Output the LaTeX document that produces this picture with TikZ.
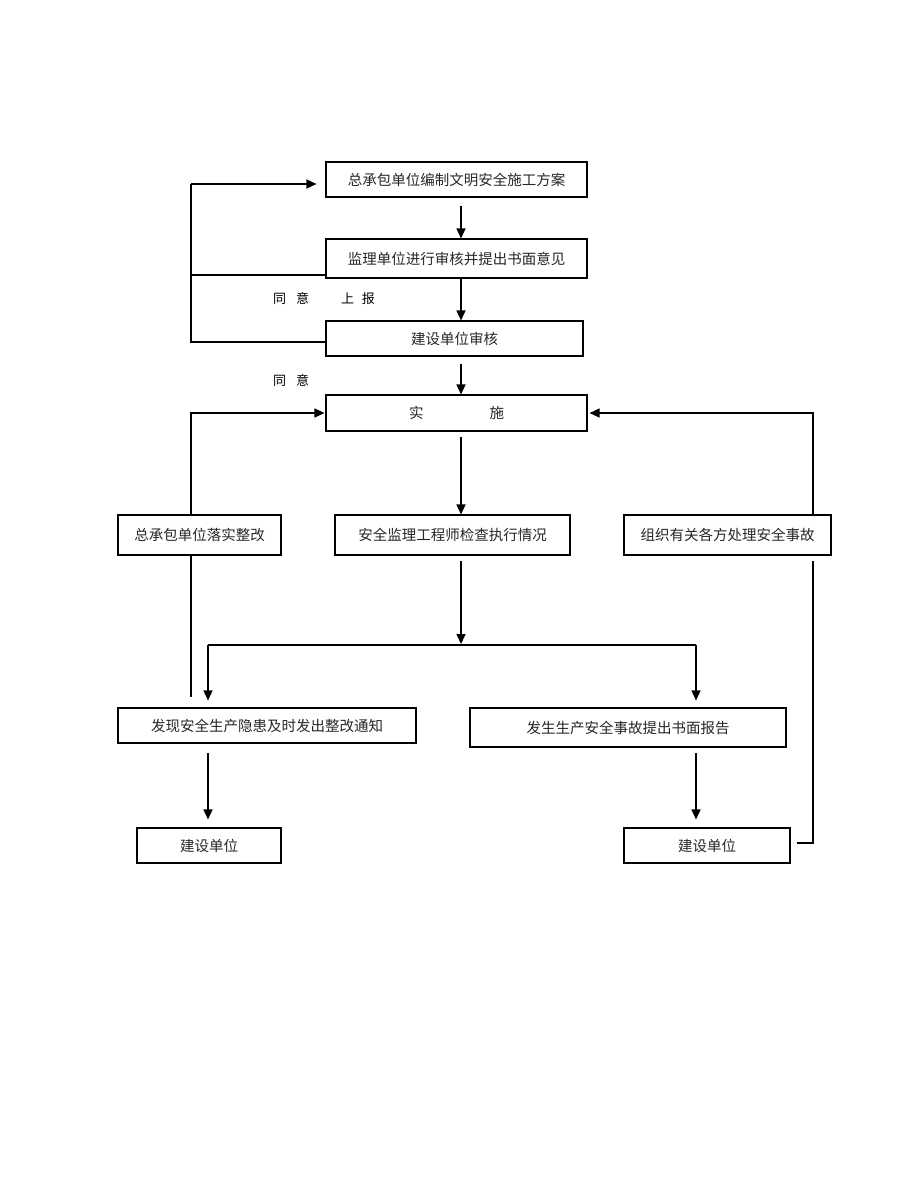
\documentclass[tikz,border=0pt]{standalone}
\usepackage{fontspec}
\setmainfont{Noto Sans CJK SC}
\usetikzlibrary{arrows.meta,calc}
\begin{document}
\begin{tikzpicture}[x=1pt,y=-1pt,
  box/.style={draw,line width=1.1pt,inner sep=0pt,font=\fontsize{14.5}{16}\selectfont,text=black!85},
  lbl/.style={inner sep=0pt,font=\fontsize{13}{15}\selectfont},
  ln/.style={line width=1.2pt},
  arr/.style={line width=1.5pt,-{Triangle[length=10pt,width=9pt]}}]
\useasboundingbox (0,0) rectangle (920,1191);
\node[box,minimum width=261pt,minimum height=35pt] (b1) at (456.5,179.5) {总承包单位编制文明安全施工方案};
\node[box,minimum width=261pt,minimum height=39pt] (b2) at (456.5,258.5) {监理单位进行审核并提出书面意见};
\node[box,minimum width=257pt,minimum height=35pt] (b3) at (454.5,338.5) {建设单位审核};
\node[box,minimum width=261pt,minimum height=36pt] (b4) at (456.5,413) {实\hspace{66pt}施};
\node[box,minimum width=163pt,minimum height=40pt] (b5) at (199.5,535) {总承包单位落实整改};
\node[box,minimum width=235pt,minimum height=40pt] (b6) at (452.5,535) {安全监理工程师检查执行情况};
\node[box,minimum width=207pt,minimum height=40pt] (b7) at (727.5,535) {组织有关各方处理安全事故};
\node[box,minimum width=298pt,minimum height=35pt] (b8) at (267,725.5) {发现安全生产隐患及时发出整改通知};
\node[box,minimum width=316pt,minimum height=39pt] (b9) at (628,727.5) {发生生产安全事故提出书面报告};
\node[box,minimum width=144pt,minimum height=35pt] (b10) at (209,845.5) {建设单位};
\node[box,minimum width=166pt,minimum height=35pt] (b11) at (707,845.5) {建设单位};
\node[lbl] (t1) at (291,299) {同\hspace{10pt}意};
\node[lbl] (t2) at (358,299) {上\hspace{8pt}报};
\node[lbl] (t3) at (291,381) {同\hspace{10pt}意};
% coordinates
\coordinate (lx1) at (191,342);
\coordinate (lx2) at (191,184);
\coordinate (lx3) at (191,275);
\coordinate (sp) at (461,645);
\coordinate (sl) at (208,645);
\coordinate (sr) at (696,645);
\coordinate (lb) at (191,697);
\coordinate (rt) at (813,843);
% top loop
\draw[ln] (b3.west |- lx1) -- (lx1) -- (lx2);
\draw[arr,shorten >=9pt] (lx2) -- (b1.west |- lx2);
\draw[ln] (b2.west |- lx3) -- (lx3);
% vertical chain
\draw[arr] ([yshift=-8pt]b1.south -| 461,0) -- (b2.north -| 461,0);
\draw[arr] (b2.south -| 461,0) -- (b3.north -| 461,0);
\draw[arr] ([yshift=-7pt]b3.south -| 461,0) -- (b4.north -| 461,0);
\draw[arr] ([yshift=-5pt]b4.south -| 461,0) -- (b6.north -| 461,0);
% feedback to b4
\draw[arr] (b5.north -| 191,0) |- ([xshift=-1pt]b4.west);
\draw[arr] (b7.north -| 813,0) |- ([xshift=2pt]b4.east);
% split
\draw[arr] ([yshift=-5pt]b6.south -| 461,0) -- ([yshift=1pt]sp);
\draw[ln] (sl) -- (sr);
\draw[arr] (sl) -- ([yshift=7pt]b8.north -| sl);
\draw[arr] (sr) -- ([yshift=7pt]b9.north -| sr);
\draw[ln] (b5.south -| lb) -- (lb);
\draw[arr] ([yshift=-9pt]b8.south -| sl) -- ([yshift=8pt]b10.north -| sl);
\draw[arr] ([yshift=-5pt]b9.south -| sr) -- ([yshift=8pt]b11.north -| sr);
% right return
\draw[ln] ([xshift=6pt]b11.east |- rt) -- (rt) -- ([yshift=-5pt]b7.south -| rt);
\end{tikzpicture}
\end{document}
